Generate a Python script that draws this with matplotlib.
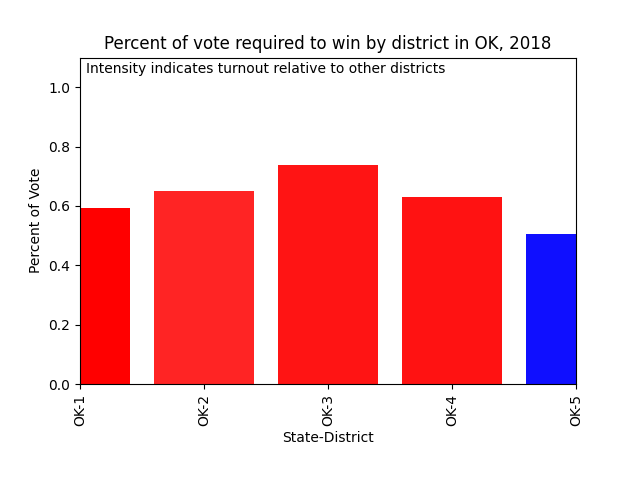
import matplotlib
matplotlib.use("Agg")
import matplotlib.pyplot as plt

districts = ["OK-1", "OK-2", "OK-3", "OK-4", "OK-5"]
vote_share = [0.593, 0.651, 0.737, 0.630, 0.505]
base_colors = ["red", "red", "red", "red", "blue"]
intensity = [1.0, 0.86, 0.92, 0.93, 0.94]

fig, ax = plt.subplots(figsize=(6.4, 4.8), dpi=100)
x = list(range(len(districts)))
for xi, v, c, a in zip(x, vote_share, base_colors, intensity):
    ax.bar(xi, v, width=0.8, color=c, alpha=a)
ax.set_xlim(0, len(districts) - 1)
ax.set_ylim(0, 1.1)
ax.set_xticks(x)
ax.set_xticklabels(districts, rotation=90)
ax.set_xlabel("State-District")
ax.set_ylabel("Percent of Vote")
ax.set_title("Percent of vote required to win by district in OK, 2018")
ax.text(0.012, 0.985, "Intensity indicates turnout relative to other districts",
        transform=ax.transAxes, va="top", ha="left")
fig.subplots_adjust(bottom=0.2)
fig.savefig("out.png")
